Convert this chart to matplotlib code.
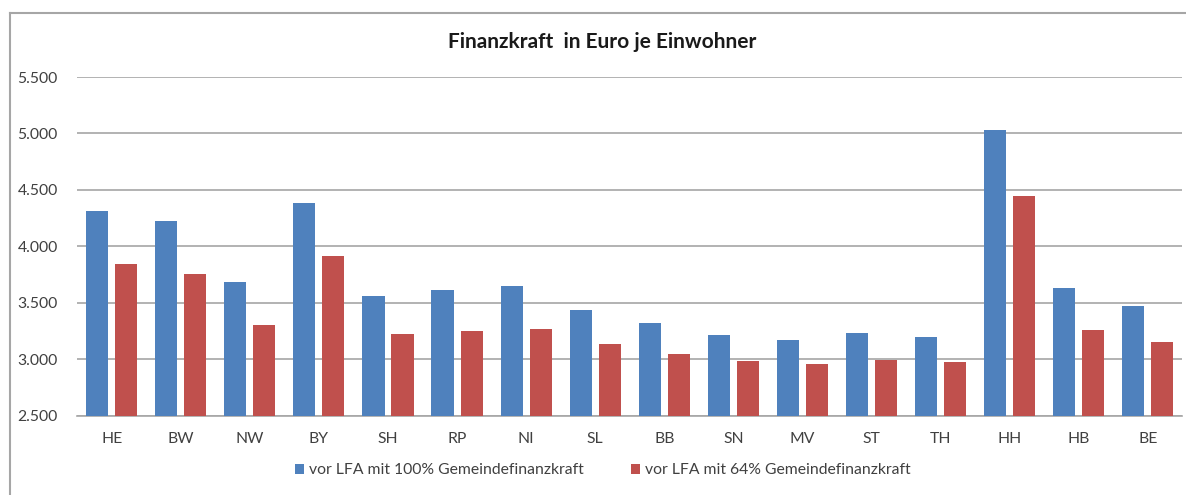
import matplotlib.pyplot as plt
import numpy as np
from matplotlib.ticker import FuncFormatter
from matplotlib.lines import Line2D

plt.rcParams['font.family'] = ['Lato', 'DejaVu Sans']

laender = ['HE', 'BW', 'NW', 'BY', 'SH', 'RP', 'NI', 'SL',
           'BB', 'SN', 'MV', 'ST', 'TH', 'HH', 'HB', 'BE']
mit_100 = [4317, 4228, 3683, 4385, 3562, 3616, 3647, 3439,
           3321, 3212, 3171, 3231, 3201, 5033, 3631, 3469]
mit_64 = [3845, 3757, 3303, 3916, 3223, 3254, 3268, 3133,
          3051, 2985, 2957, 2995, 2972, 4443, 3263, 3157]
y_ticks = [2500, 3000, 3500, 4000, 4500, 5000, 5500]

blau = '#4F81BD'
rot = '#C0504D'
text_farbe = '#404040'

fig = plt.figure(figsize=(11.86, 4.95), dpi=100)
ax = fig.add_axes([0.065, 0.16, 0.932, 0.6844])

x = np.arange(len(laender))
ax.bar(x - 0.21, mit_100, width=0.32, color=blau, label='vor LFA mit 100% Gemeindefinanzkraft', zorder=3)
ax.bar(x + 0.21, mit_64, width=0.32, color=rot, label='vor LFA mit 64% Gemeindefinanzkraft', zorder=3)

ax.set_xlim(-0.5, len(laender) - 0.5)
ax.set_ylim(2500, 5500)
ax.set_yticks(y_ticks)
ax.yaxis.set_major_formatter(FuncFormatter(lambda v, p: f'{int(v):,}'.replace(',', '.')))
ax.set_xticks(x)
ax.set_xticklabels(laender)
ax.tick_params(axis='both', length=0, labelsize=11.3, colors=text_farbe)
ax.tick_params(axis='x', pad=12)
ax.tick_params(axis='y', pad=14)
ax.grid(axis='y', color='#A6A6A6', linewidth=1.2, zorder=0)
for s in ['top', 'right', 'left']:
    ax.spines[s].set_visible(False)
ax.spines['bottom'].set_color('#A6A6A6')
ax.spines['bottom'].set_linewidth(1.2)

fig.text(0.508, 0.915, 'Finanzkraft  in Euro je Einwohner', ha='center', va='center',
         fontsize=15, fontweight='bold', color='#1a1a1a')

leg = fig.legend(loc='center', bbox_to_anchor=(0.508, 0.05), ncol=2, frameon=False,
                 fontsize=11.3, handlelength=0.6, handleheight=0.6, handletextpad=0.3,
                 columnspacing=3.0)
for t in leg.get_texts():
    t.set_color(text_farbe)

# Rahmen links und oben
fig.add_artist(Line2D([0.0085, 0.0085], [0.0, 0.974], color='#A6A6A6', linewidth=1.5))
fig.add_artist(Line2D([0.0085, 1.0], [0.974, 0.974], color='#A6A6A6', linewidth=1.5))

fig.savefig('out.png', dpi=100)
